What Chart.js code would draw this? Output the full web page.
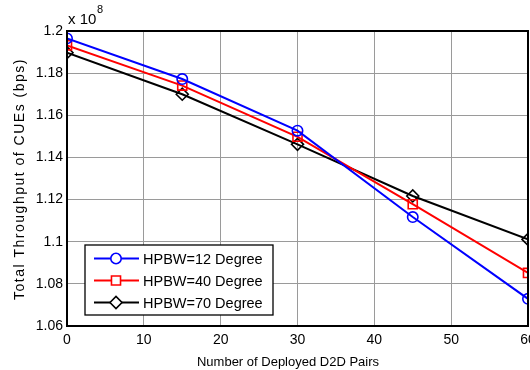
<!DOCTYPE html>
<html>
<head>
<meta charset="utf-8">
<script src="https://cdn.jsdelivr.net/npm/chart.js@4/dist/chart.umd.min.js"></script>
<style>
  html, body { margin: 0; padding: 0; background: #fff; overflow: hidden; }
  #wrap { position: relative; width: 560px; height: 370px; }
</style>
</head>
<body>
<div id="wrap"><canvas id="chart" width="560" height="370"></canvas></div>
<script>
// number of deployed D2D pairs
const pairs = [0, 15, 30, 45, 60];
// throughput of CUEs, in units of 1e8 bps
const hpbw12 = [1.1965, 1.1772, 1.1527, 1.1117, 1.0729];
const hpbw40 = [1.1932, 1.1741, 1.1498, 1.1178, 1.0852];
const hpbw70 = [1.1897, 1.1700, 1.1462, 1.1217, 1.1011];
const seriesNames = ['HPBW=12 Degree', 'HPBW=40 Degree', 'HPBW=70 Degree'];
const yTicks = [1.06, 1.08, 1.1, 1.12, 1.14, 1.16, 1.18, 1.2];
const xTicks = [0, 10, 20, 30, 40, 50, 60];
const xTitle = 'Number of Deployed D2D Pairs';
const yTitle = 'Total Throughput of CUEs (bps)';

const FONT = '"Liberation Sans", Arial, sans-serif';

function series(label, values, color, shape, radius) {
    return {
        label: label,
        data: values.map((v, i) => ({ x: pairs[i], y: v })),
        borderColor: color,
        backgroundColor: color,
        borderWidth: 2,
        pointStyle: shape,
        pointRadius: radius,
        pointBorderWidth: 1.6,
        pointBackgroundColor: 'rgba(0,0,0,0)',
        pointBorderColor: color,
        tension: 0
    };
}

// MATLAB style frame, axis titles, exponent label and in-plot legend
const matlabBits = {
    id: 'matlabBits',
    afterDraw(chart) {
        const ctx = chart.ctx;
        const a = chart.chartArea;
        ctx.save();
        ctx.strokeStyle = '#000';
        ctx.lineWidth = 2;
        ctx.strokeRect(a.left, a.top, a.right - a.left, a.bottom - a.top);

        ctx.fillStyle = '#000';
        ctx.textBaseline = 'alphabetic';
        ctx.textAlign = 'left';
        ctx.font = '15px ' + FONT;
        ctx.fillText('x 10', a.left + 1, 24);
        ctx.font = '11px ' + FONT;
        ctx.fillText('8', a.left + 30, 13);

        // axis titles
        ctx.font = '13px ' + FONT;
        ctx.textAlign = 'center';
        ctx.fillText(xTitle, 288, 366);
        ctx.save();
        ctx.translate(24, 179);
        ctx.rotate(-Math.PI / 2);
        ctx.font = '14px ' + FONT;
        ctx.letterSpacing = '1.5px';
        ctx.fillText(yTitle, 0, 0);
        ctx.restore();

        // legend box
        const bx = 85, by = 245, bw = 188, bh = 70;
        ctx.fillStyle = '#fff';
        ctx.fillRect(bx, by, bw, bh);
        ctx.strokeStyle = '#000';
        ctx.lineWidth = 1.3;
        ctx.strokeRect(bx, by, bw, bh);
        ctx.textAlign = 'left';
        chart.data.datasets.forEach((ds, i) => {
            const y = by + 13.5 + i * 22;
            ctx.strokeStyle = ds.borderColor;
            ctx.lineWidth = 2;
            ctx.beginPath();
            ctx.moveTo(bx + 9, y);
            ctx.lineTo(bx + 54, y);
            ctx.stroke();
            ctx.fillStyle = '#fff';
            ctx.lineWidth = 1.6;
            Chart.helpers.drawPoint(ctx, {
                pointStyle: ds.pointStyle,
                radius: ds.pointRadius,
                rotation: 0,
                borderWidth: 1.6
            }, bx + 31, y);
            ctx.fillStyle = '#000';
            ctx.font = '14.5px ' + FONT;
            ctx.textBaseline = 'middle';
            ctx.fillText(ds.label, bx + 58, y + 1);
        });
        ctx.restore();
    }
};

new Chart(document.querySelector('#chart').getContext('2d'), {
    type: 'line',
    data: {
        datasets: [
            series(seriesNames[0], hpbw12, '#0000ff', 'circle', 5.2),
            series(seriesNames[1], hpbw40, '#ff0000', 'rect', 6.4),
            series(seriesNames[2], hpbw70, '#000000', 'rectRot', 6)
        ]
    },
    options: {
        responsive: false,
        animation: false,
        layout: { padding: { top: 31, right: 32, left: 0, bottom: 0 } },
        plugins: { legend: { display: false }, tooltip: { enabled: false } },
        scales: {
            x: {
                type: 'linear',
                min: 0,
                max: 60,
                afterBuildTicks: s => { s.ticks = xTicks.map(v => ({ value: v })); },
                afterFit: s => { s.height = 44; },
                grid: { color: '#9a9a9a', lineWidth: 1, drawTicks: false },
                border: { display: false },
                ticks: {
                    color: '#000',
                    padding: 6,
                    maxRotation: 0,
                    font: { family: FONT, size: 14 }
                }
            },
            y: {
                min: 1.06,
                max: 1.2,
                afterBuildTicks: s => { s.ticks = yTicks.map(v => ({ value: v })); },
                afterFit: s => { s.width = 67; },
                grid: { color: '#9a9a9a', lineWidth: 1, drawTicks: false },
                border: { display: false },
                ticks: {
                    color: '#000',
                    padding: 4,
                    font: { family: FONT, size: 14 },
                    callback: v => String(Math.round(v * 100) / 100)
                }
            }
        }
    },
    plugins: [matlabBits]
});
</script>
</body>
</html>
